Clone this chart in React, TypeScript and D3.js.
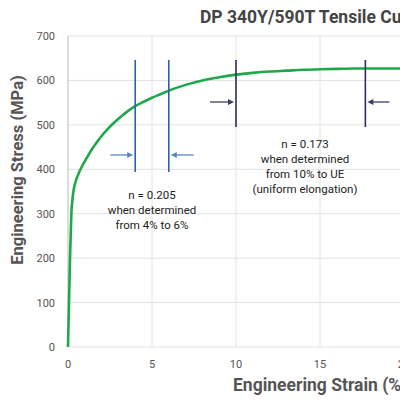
import React from "react";
import * as d3 from "d3";

const strain = [0, 0.03, 0.06, 0.09, 0.12, 0.16, 0.2, 0.26, 0.32, 0.4, 0.5, 0.65, 0.8, 1.0, 1.2, 1.4, 1.7, 2.0, 2.4, 2.8, 3.2, 3.6, 4.0, 4.5, 5.0, 5.5, 6.0, 7.0, 8.0, 9.0, 10, 11, 12, 13, 14, 15, 16, 17, 18, 19, 20, 21, 22];
const stress = [0, 50, 100, 150, 200, 250, 300, 330, 350, 365, 378, 392, 404, 418, 431, 444, 460, 475, 492, 507, 520, 532, 542, 552, 561, 569, 577, 590, 600, 607, 613, 617, 620, 622, 624, 625, 626, 627, 627, 627, 627, 626, 626];

const xTicks = [0, 5, 10, 15, 20, 25];
const yTicks = [0, 100, 200, 300, 400, 500, 600, 700];

const blueLines = [4, 6];
const navyLines = [10, 17.7];

const noteA = ["n = 0.205", "when determined", "from 4% to 6%"];
const noteB = ["n = 0.173", "when determined", "from 10% to UE", "(uniform elongation)"];

const title = "DP 340Y/590T Tensile Curve";
const xLabel = "Engineering Strain (%)";
const yLabel = "Engineering Stress (MPa)";

export default function App() {
  const x = d3.scaleLinear().domain([0, 25]).range([68, 68 + 16.8 * 25]);
  const y = d3.scaleLinear().domain([0, 700]).range([347, 36]);
  const line = d3
    .line<number>()
    .x((_, i) => x(strain[i]))
    .y((d) => y(d))
    .curve(d3.curveMonotoneX);

  const font = "Roboto, 'Liberation Sans', sans-serif";
  const arrow = (x1: number, x2: number, yy: number, color: string) => {
    const dir = Math.sign(x2 - x1);
    const tip = x2;
    return (
      <g>
        <line x1={x1} x2={tip - dir * 5} y1={yy} y2={yy} stroke={color} strokeWidth={1.3} />
        <path
          d={`M${tip},${yy} L${tip - dir * 6},${yy - 3} L${tip - dir * 6},${yy + 3} Z`}
          fill={color}
        />
      </g>
    );
  };

  return (
    <svg
      width={400}
      height={400}
      style={{ position: "absolute", left: 0, top: 0, background: "#fff" }}
    >
      <rect width={400} height={400} fill="#fff" />
      {yTicks.map((t) => (
        <line key={"gy" + t} x1={x(0)} x2={x(25)} y1={y(t)} y2={y(t)} stroke="#e2e2e2" strokeWidth={1} />
      ))}
      {xTicks.map((t) => (
        <line key={"gx" + t} x1={x(t)} x2={x(t)} y1={y(0)} y2={y(700)} stroke={t === 0 ? "#cfcfcf" : "#e2e2e2"} strokeWidth={t === 0 ? 1.5 : 1} />
      ))}
      {yTicks.map((t) => (
        <text key={"ty" + t} x={55} y={y(t) + 4} textAnchor="end" fontSize={11} fill="#555" fontFamily={font}>
          {t}
        </text>
      ))}
      {xTicks.map((t) => (
        <text key={"tx" + t} x={x(t)} y={368} textAnchor="middle" fontSize={11} fill="#555" fontFamily={font}>
          {t}
        </text>
      ))}
      <path d={line(stress) || ""} fill="none" stroke="#1fa84a" strokeWidth={2.6} />
      {blueLines.map((v) => (
        <line key={"bl" + v} x1={x(v)} x2={x(v)} y1={60} y2={172} stroke="#2d5fb3" strokeWidth={1.6} />
      ))}
      {navyLines.map((v) => (
        <line key={"nl" + v} x1={x(v)} x2={x(v)} y1={60} y2={127} stroke="#2c2f5e" strokeWidth={1.6} />
      ))}
      {arrow(x(4) - 25, x(4) - 2, 155, "#5b86c4")}
      {arrow(x(6) + 25, x(6) + 2, 155, "#5b86c4")}
      {arrow(x(10) - 26, x(10) - 2, 102, "#3a3d6a")}
      {arrow(x(17.7) + 24, x(17.7) + 2, 102, "#3a3d6a")}
      {noteA.map((s, i) => (
        <text key={"na" + i} x={152} y={199 + i * 15} textAnchor="middle" fontSize={11.5} fill="#222" fontFamily={font}>
          {s}
        </text>
      ))}
      {noteB.map((s, i) => (
        <text key={"nb" + i} x={305} y={148 + i * 15} textAnchor="middle" fontSize={11.5} fill="#222" fontFamily={font}>
          {s}
        </text>
      ))}
      <text x={200} y={23} fontSize={17.5} fontWeight="bold" fill="#444" fontFamily={font}>
        {title}
      </text>
      <text x={233} y={391} fontSize={17.5} fontWeight="bold" fill="#555" fontFamily={font}>
        {xLabel}
      </text>
      <text
        transform={`translate(23,170) rotate(-90)`}
        textAnchor="middle"
        fontSize={16.5}
        fontWeight="bold"
        fill="#555"
        fontFamily={font}
      >
        {yLabel}
      </text>
    </svg>
  );
}
